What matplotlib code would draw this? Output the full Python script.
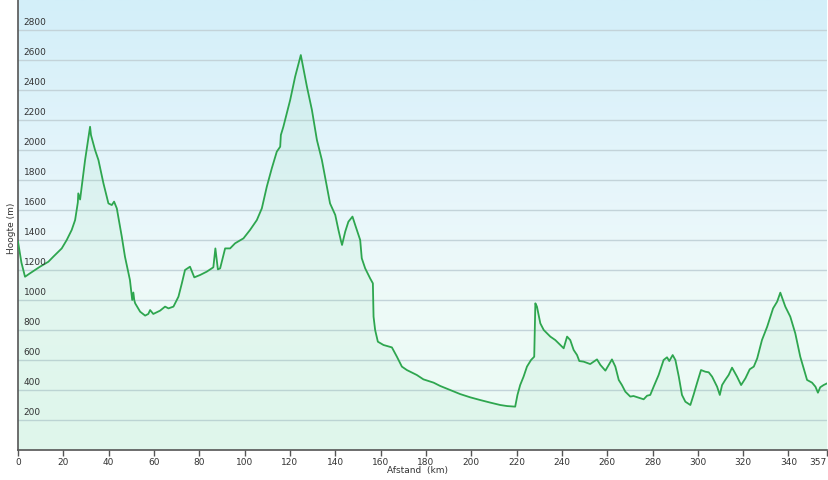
import numpy as np
import matplotlib
matplotlib.use("Agg")
import matplotlib.pyplot as plt
from matplotlib.colors import LinearSegmentedColormap

# Elevation profile (distance km, height m)
distance_km = [0, 1.5, 3.1, 5.0, 7.5, 9.7, 13.4, 15.6, 19.3, 21.5, 23.7, 25.2, 26.4, 26.6, 27.4,
               29.6, 31.8, 32.2, 34.0, 35.5, 37.7, 39.9, 41.4, 42.4, 43.6, 45.8, 47.2, 49.4,
               50.4, 50.9, 51.3, 51.7, 53.9, 56.1, 57.5, 58.3, 59.7, 62.7, 64.9, 66.4, 68.6,
               70.8, 72.3, 73.7, 75.9, 77.8, 80.4, 83.3, 86.2, 87.1, 88.2, 89.2, 91.4, 93.6,
               95.8, 99.5, 102.4, 105.4, 107.6, 109.8, 112.0, 114.2, 115.7, 116.0, 117.1,
               118.6, 120.1, 122.3, 124.8, 127.5, 129.7, 131.9, 134.1, 136.3, 137.7, 140.0,
               141.4, 142.6, 143.0, 144.4, 145.8, 147.6, 148.8, 151.0, 151.7, 153.2, 155.4,
               156.6, 156.9, 157.6, 158.8, 161.3, 165.0, 167.2, 169.4, 171.6, 174.5, 176.0,
               178.9, 183.4, 186.3, 190.7, 195.1, 199.6, 204.0, 208.4, 212.8, 215.8, 219.4,
               220.4, 221.6, 223.1, 224.6, 226.4, 227.8, 228.3, 229.0, 230.5, 232.0, 234.9,
               237.1, 238.6, 240.8, 242.3, 243.7, 245.2, 246.7, 247.7, 249.6, 252.5, 255.5,
               257.0, 259.2, 262.1, 263.6, 265.1, 266.5, 268.0, 270.2, 271.6, 273.8, 276.1,
               277.6, 279.0, 280.5, 282.7, 284.9, 286.4, 287.4, 288.9, 290.1, 291.6, 293.0,
               294.5, 296.7, 298.1, 299.6, 301.4, 303.3, 304.8, 306.3, 308.5, 309.7, 310.7,
               312.1, 313.6, 315.1, 317.3, 319.1, 321.0, 322.9, 324.7, 326.2, 328.3, 330.6,
               333.2, 335.0, 336.4, 338.6, 340.8, 343.0, 345.2, 346.7, 348.2, 350.4, 351.9,
               353.0, 354.0, 355.5, 357.0]
height_m = [1390, 1250, 1155, 1175, 1200, 1222, 1255, 1289, 1344, 1400, 1467, 1533, 1650, 1711, 1670,
            1933, 2155, 2100, 2000, 1933, 1778, 1644, 1633, 1656, 1611, 1422, 1289, 1133,
            1000, 1050, 1000, 978, 922, 896, 907, 933, 907, 929, 956, 944, 956,
            1022, 1111, 1200, 1222, 1151, 1167, 1189, 1218, 1344, 1204, 1211, 1344, 1344,
            1378, 1411, 1467, 1533, 1611, 1756, 1878, 1989, 2022, 2100, 2155,
            2244, 2333, 2489, 2633, 2422, 2267, 2067, 1933, 1756, 1644, 1567,
            1467, 1389, 1367, 1456, 1522, 1556, 1500, 1400, 1278, 1211, 1144,
            1111, 889, 800, 722, 700, 684, 622, 556, 533, 511, 500,
            471, 449, 427, 400, 373, 351, 333, 316, 300, 293, 289,
            367, 433, 489, 556, 600, 622, 978, 956, 844, 800, 756,
            733, 711, 678, 756, 733, 667, 633, 593, 589, 573, 604,
            567, 529, 604, 556, 467, 433, 389, 356, 360, 349, 338,
            362, 367, 422, 500, 600, 618, 593, 633, 600, 489, 367,
            322, 300, 367, 444, 533, 522, 518, 489, 422, 367, 433,
            467, 500, 549, 489, 433, 478, 538, 556, 611, 733, 822,
            944, 989, 1049, 956, 889, 778, 622, 544, 467, 449, 422,
            382, 418, 433, 444]

x_ticks = [0, 20, 40, 60, 80, 100, 120, 140, 160, 180, 200, 220, 240, 260, 280, 300, 320, 340, 357]
y_ticks = [200, 400, 600, 800, 1000, 1200, 1400, 1600, 1800, 2000, 2200, 2400, 2600, 2800]

fig = plt.figure(figsize=(8.29, 4.80), dpi=100)
fig.patch.set_facecolor("white")
ax = fig.add_axes([18 / 829, 30 / 480, (827 - 18) / 829, 450 / 480])
ax.set_xlim(0, 357)
ax.set_ylim(0, 3000)

# gradient background
cmap = LinearSegmentedColormap.from_list(
    "bg", [(0.0, "#ebfbf4"), (0.35, "#eefaf8"), (0.55, "#e8f6fb"), (1.0, "#d3eff9")])
grad = np.linspace(0, 1, 256).reshape(-1, 1)
ax.imshow(grad, cmap=cmap, origin="lower", extent=[0, 357, 0, 3000], aspect="auto", zorder=0)

for yv in y_ticks:
    ax.axhline(yv, color="#c3d3d9", lw=1.0, zorder=1)
    ax.text(2.5, yv + 18, str(yv), fontsize=6.5, color="#333333", ha="left", va="bottom", zorder=4)

ax.fill_between(distance_km, height_m, 0, color="#8fdfae", alpha=0.12, lw=0, zorder=2)
ax.plot(distance_km, height_m, color="#2ea64f", lw=1.3, zorder=3)

ax.set_yticks([])
ax.set_xticks(x_ticks)
ax.set_xticklabels([str(t) for t in x_ticks], fontsize=6.5, color="#333333")
ax.get_xticklabels()[-1].set_ha("right")
ax.tick_params(axis="x", direction="out", length=4, width=1, color="#555555", pad=2)
for s in ["top", "right"]:
    ax.spines[s].set_visible(False)
for s in ["left", "bottom"]:
    ax.spines[s].set_color("#555555")
    ax.spines[s].set_linewidth(1.2)

fig.text(418 / 829, 1 - 471 / 480, "Afstand  (km)", fontsize=6.5, color="#333333", ha="center", va="center")
fig.text(12 / 829, 1 - 228 / 480, "Hoogte (m)", fontsize=6.5, color="#333333", ha="center", va="center", rotation=90)

fig.savefig("out.png", dpi=100)
